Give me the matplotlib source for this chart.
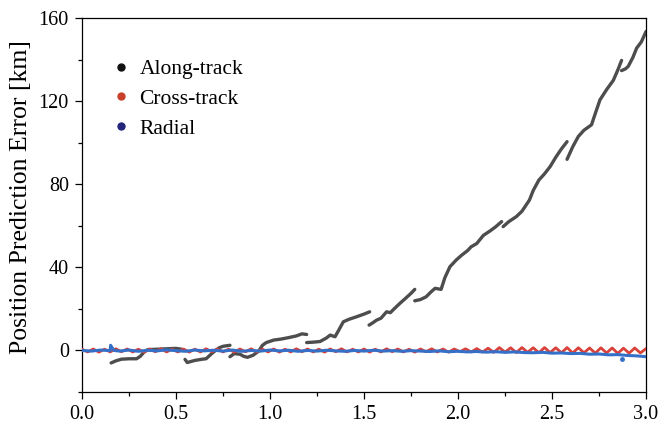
import numpy as np
import matplotlib.pyplot as plt
from matplotlib.lines import Line2D

# along-track error, in gapped arcs (x: days, y: km)
along_segments = [
    ([0.155, 0.18, 0.21, 0.25, 0.29, 0.31, 0.33, 0.35, 0.40, 0.45, 0.50, 0.53],
     [-6.0, -5.0, -4.2, -4.0, -4.0, -2.8, -0.8, 0.4, 0.6, 0.8, 1.0, 0.6]),
    ([0.548, 0.56, 0.60, 0.64, 0.66, 0.69, 0.71, 0.73, 0.75, 0.787],
     [-4.3, -5.8, -4.8, -4.2, -4.0, -1.5, 0.0, 1.3, 2.0, 2.5]),
    ([0.787, 0.81, 0.84, 0.86, 0.88, 0.91, 0.94, 0.96, 0.98, 1.02, 1.06, 1.10, 1.14, 1.17, 1.195],
     [-3.0, -1.5, -1.8, -2.8, -3.3, -2.3, -0.3, 2.5, 3.8, 5.0, 5.5, 6.2, 7.0, 8.0, 7.7]),
    ([1.195, 1.23, 1.266, 1.30, 1.32, 1.346, 1.37, 1.39, 1.42, 1.46, 1.50, 1.53],
     [3.8, 4.0, 4.3, 6.0, 7.4, 6.6, 10.5, 13.8, 15.0, 16.2, 17.5, 18.6]),
    ([1.527, 1.545, 1.567, 1.59, 1.62, 1.64, 1.66, 1.69, 1.72, 1.75, 1.77],
     [12.2, 13.2, 14.6, 15.5, 18.6, 18.2, 20.0, 22.6, 25.0, 27.5, 29.4]),
    ([1.77, 1.80, 1.83, 1.86, 1.878, 1.91, 1.93, 1.957, 1.99, 2.02, 2.05, 2.07, 2.10, 2.135, 2.17, 2.20, 2.232],
     [23.9, 24.5, 25.8, 28.5, 29.9, 29.4, 35.0, 40.3, 43.5, 45.9, 48.0, 49.9, 51.5, 55.4, 57.5, 59.5, 62.0]),
    ([2.24, 2.27, 2.31, 2.34, 2.38, 2.40, 2.43, 2.46, 2.49, 2.52, 2.55, 2.58],
     [59.6, 62.0, 64.4, 67.0, 72.4, 77.0, 82.0, 85.0, 88.5, 93.0, 97.0, 100.5]),
    ([2.58, 2.61, 2.64, 2.67, 2.71, 2.73, 2.755, 2.79, 2.826, 2.85, 2.87],
     [92.0, 98.0, 103.0, 106.0, 108.6, 114.0, 120.6, 125.5, 130.0, 135.0, 139.6]),
    ([2.87, 2.89, 2.905, 2.93, 2.95, 2.975, 3.0],
     [134.7, 135.5, 136.7, 141.0, 145.5, 148.5, 153.5]),
]

# cross-track error, peaks and troughs every 0.03 day
cross_x = np.round(np.arange(0, 3.0001, 0.03), 2)
cross_y = [0.6, -0.7, 0.7, -0.8, 0.6, -0.7, 0.8, -0.6, 0.7, -0.7,
           0.6, -0.8, 0.7, -0.6, 0.8, -0.7, 0.6, -0.7, 0.7, -0.8,
           0.6, -0.7, 0.8, -0.6, 0.7, -0.7, 0.6, -0.8, 0.7, -0.6,
           0.8, -0.7, 0.6, -0.7, 0.7, -0.8, 0.6, -0.7, 0.8, -0.6,
           0.7, -0.7, 0.6, -0.8, 0.7, -0.6, 0.8, -0.7, 0.6, -0.7,
           0.7, -0.8, 0.6, -0.7, 0.8, -0.6, 0.7, -0.7, 0.6, -0.8,
           0.7, -0.6, 0.8, -0.7, 0.7, -0.8, 0.7, -0.6, 0.8, -0.7,
           0.9, -0.8, 1.1, -0.9, 1.4, -0.8, 1.3, -1.0, 1.4, -0.9,
           1.3, -1.1, 1.4, -1.0, 1.3, -1.1, 1.4, -1.2, 1.3, -1.1,
           1.2, -1.3, 1.3, -1.2, 1.2, -1.4, 1.1, -1.3, 1.2, -1.2, 0.9]

# radial error
rad_x_head = [0.0, 0.05, 0.10, 0.15, 0.152, 0.17]
rad_y_head = [0.0, -0.3, 0.2, -0.1, 2.5, 0.0]
rad_x_body = np.round(np.arange(0.20, 3.0001, 0.05), 2)
rad_y_body = [-0.3, 0.2, -0.4, 0.1, -0.2, 0.3, -0.1, -0.4, 0.2, -0.2,
              0.1, -0.3, 0.2, -0.4, 0.0, -0.3, 0.2, -0.2, 0.1, -0.4,
              0.0, -0.3, 0.1, -0.2, -0.4, 0.0, -0.3, 0.1, -0.3, -0.1,
              -0.4, -0.1, -0.3, -0.5, -0.2, -0.6, -0.4, -0.7, -0.5, -0.8,
              -0.6, -0.9, -0.7, -1.0, -1.1, -0.9, -1.3, -1.2, -1.5, -1.4,
              -1.8, -1.7, -2.1, -2.0, -2.4, -2.6, -3.0]
rad_dot_x = [2.87]
rad_dot_y = [-3.9]

labels = ['Along-track', 'Cross-track', 'Radial']
legend_colors = ['#111111', '#c8402a', '#22257a']

plt.rcParams['font.family'] = ['Liberation Serif', 'DejaVu Serif']

fig = plt.figure(figsize=(6.58, 4.25), dpi=100)
ax = fig.add_axes([0.1246, 0.0776, 0.8572, 0.88])

for xs, ys in along_segments:
    ax.plot(xs, ys, color='#4d4d4d', lw=2.4, solid_capstyle='round', zorder=2)

ax.plot(cross_x, cross_y, color='#d9413b', lw=2.0, zorder=3)

rad_x = np.concatenate([rad_x_head, rad_x_body])
rad_y = np.concatenate([rad_y_head, rad_y_body])
ax.plot(rad_x, rad_y, color='#3570c8', lw=2.2, zorder=4)
ax.plot(rad_dot_x, rad_dot_y, 'o', color='#3570c8', ms=2.5, zorder=4)

ax.set_xlim(0, 3.0)
ax.set_ylim(-20, 160)
ax.set_xticks([0.0, 0.5, 1.0, 1.5, 2.0, 2.5, 3.0])
ax.set_xticks(np.arange(0, 3.01, 0.25), minor=True)
ax.set_yticks([0, 40, 80, 120, 160])
ax.set_yticks(np.arange(-20, 161, 20), minor=True)
ax.xaxis.set_major_formatter(plt.FormatStrFormatter('%.1f'))
ax.tick_params(which='major', length=5, width=0.9, labelsize=14.5, direction='out', pad=4.5)
ax.tick_params(which='minor', length=3, width=0.9, direction='out')
for s in ax.spines.values():
    s.set_linewidth(0.9)

ax.set_ylabel('Position Prediction Error [km]', fontsize=18.5)
ax.yaxis.set_label_coords(-0.088, 0.52)

handles = [Line2D([], [], ls='none', marker='o', ms=5, color=c) for c in legend_colors]
ax.legend(handles, labels, loc='upper left', bbox_to_anchor=(0.02, 0.942),
          frameon=False, fontsize=15.5, handlelength=0.8, handletextpad=0.45,
          labelspacing=0.45)

plt.savefig('out.png', dpi=100)
